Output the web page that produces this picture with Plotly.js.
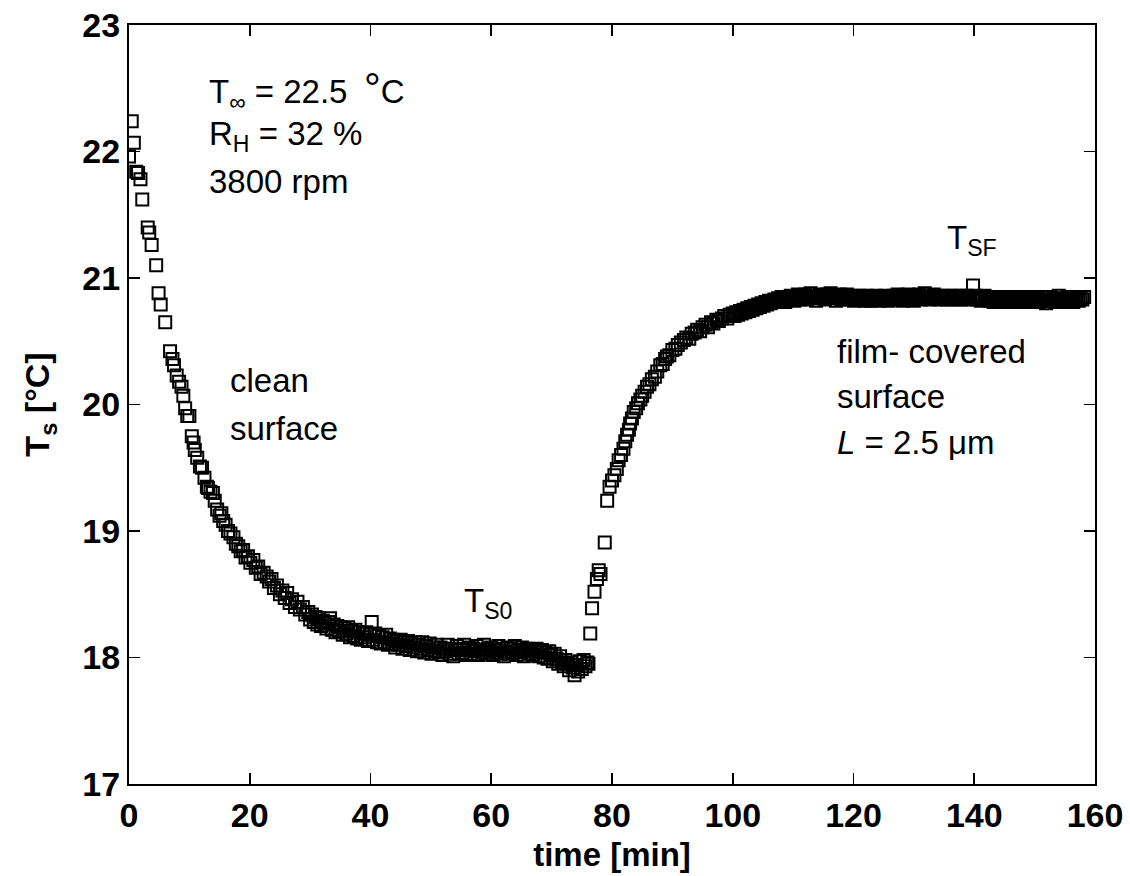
<!DOCTYPE html>
<html>
<head>
<meta charset="utf-8">
<script src="https://cdn.plot.ly/plotly-3.0.1.min.js"></script>
<style>html,body{margin:0;padding:0;background:#fff;}#chart{width:1130px;height:876px;}</style>
</head>
<body>
<div id="chart"></div>
<script>
// time [min]
const timeMin = [
0,0.45,0.8,1.2,1.5,1.9,2.2,3.1,3.35,3.75,4.5,4.9,5.25,6.0,6.8,7.2,7.45,7.9,8.3,8.7,
9.0,9.3,9.65,10.0,10.4,10.7,10.9,11.3,11.75,12.1,12.5,12.9,13.1,13.5,13.9,14.2,14.6,15.0,15.3,15.6,
16.0,16.4,16.8,17.3,17.7,18.1,18.5,18.9,19.3,19.7,20.1,20.6,21.0,21.4,21.8,22.3,22.8,23.2,23.6,24.0,
24.5,25.0,25.4,25.8,26.2,26.6,27.0,27.5,27.9,28.3,28.8,29.2,29.7,
30.0,30.3,30.6,30.9,31.2,31.5,31.8,32.1,32.4,32.7,
33.0,33.3,33.6,33.9,34.2,34.5,34.8,35.1,35.4,35.7,
36.0,36.3,36.6,36.9,37.2,37.5,37.8,38.1,38.4,38.7,
39.0,39.3,39.6,39.9,40.2,40.5,40.8,41.1,41.4,41.7,
42.0,42.3,42.6,42.9,43.2,43.5,43.8,44.1,44.4,44.7,
45.0,45.3,45.6,45.9,46.2,46.5,46.8,47.1,47.4,47.7,
48.0,48.3,48.6,48.9,49.2,49.5,49.8,50.1,50.4,50.7,
51.0,51.3,51.6,51.9,52.2,52.5,52.8,53.1,53.4,53.7,
54.0,54.3,54.6,54.9,55.2,55.5,55.8,56.1,56.4,56.7,
57.0,57.3,57.6,57.9,58.2,58.5,58.8,59.1,59.4,59.7,
60.0,60.3,60.6,60.9,61.2,61.5,61.8,62.1,62.4,62.7,
63.0,63.3,63.6,63.9,64.2,64.5,64.8,65.1,65.4,65.7,
66.0,66.3,66.6,66.9,67.2,67.5,67.8,68.1,68.4,68.7,
69.0,69.3,69.6,69.9,70.2,70.5,70.8,71.1,71.4,71.7,
72.0,72.3,72.6,72.9,73.2,73.5,73.8,74.1,74.4,74.7,
75.0,75.3,75.6,75.9,76.1,
76.4,76.7,77.1,77.5,77.8,78.1,78.8,79.2,79.6,80.0,80.4,80.8,81.1,81.5,81.9,82.2,82.5,82.8,83.0,83.3,
83.6,84.0,84.3,84.7,85.0,85.4,85.8,86.2,86.6,87.1,87.5,88.0,88.4,88.8,89.1,89.5,90.0,90.5,90.9,91.4,
91.9,92.3,92.8,93.2,93.7,94.1,94.6,95.0,95.5,95.9,96.4,96.8,97.3,97.7,98.2,98.6,99.1,99.5,
100.0,100.3,100.6,100.9,101.2,101.5,101.8,102.1,102.4,102.7,
103.0,103.3,103.6,103.9,104.2,104.5,104.8,105.1,105.4,105.7,
106.0,106.3,106.6,106.9,107.2,107.5,107.8,108.1,108.4,108.7,
109.0,109.3,109.6,109.9,110.2,110.5,110.8,111.1,111.4,111.7,
112.0,112.3,112.6,112.9,113.2,113.5,113.8,114.1,114.4,114.7,
115.0,115.3,115.6,115.9,116.2,116.5,116.8,117.1,117.4,117.7,
118.0,118.3,118.6,118.9,119.2,119.5,119.8,120.1,120.4,120.7,
121.0,121.3,121.6,121.9,122.2,122.5,122.8,123.1,123.4,123.7,
124.0,124.3,124.6,124.9,125.2,125.5,125.8,126.1,126.4,126.7,
127.0,127.3,127.6,127.9,128.2,128.5,128.8,129.1,129.4,129.7,
130.0,130.3,130.6,130.9,131.2,131.5,131.8,132.1,132.4,132.7,
133.0,133.3,133.6,133.9,134.2,134.5,134.8,135.1,135.4,135.7,
136.0,136.3,136.6,136.9,137.2,137.5,137.8,138.1,138.4,138.7,
139.0,139.3,139.8,139.9,140.2,140.5,140.8,141.1,141.4,141.7,
142.0,142.3,142.6,142.9,143.2,143.5,143.8,144.1,144.4,144.7,
145.0,145.3,145.6,145.9,146.2,146.5,146.8,147.1,147.4,147.7,
148.0,148.3,148.6,148.9,149.2,149.5,149.8,150.1,150.4,150.7,
151.0,151.3,151.6,151.9,152.2,152.5,152.8,153.1,153.4,153.7,
154.0,154.3,154.6,154.9,155.2,155.5,155.8,156.1,156.4,156.7,
157.0,157.3,157.6,157.9,158.2
];
// surface temperature T_s [°C]
const surfaceTemp = [
21.96,22.24,22.07,21.84,21.83,21.78,21.62,21.40,21.36,21.26,21.10,20.88,20.79,20.65,20.42,20.36,20.31,20.23,20.18,20.14,
20.07,19.97,19.91,19.91,19.75,19.70,19.64,19.58,19.51,19.50,19.42,19.35,19.34,19.31,19.30,19.24,19.17,19.12,19.14,19.08,
19.05,19.00,18.98,18.95,18.90,18.88,18.84,18.85,18.79,18.80,18.75,18.77,18.71,18.72,18.66,18.67,18.64,18.60,18.62,18.55,
18.57,18.50,18.53,18.47,18.51,18.43,18.46,18.40,18.44,18.38,18.40,18.34,18.36,
18.30,18.34,18.28,18.32,18.26,18.31,18.25,18.29,18.27,18.23,
18.28,18.31,18.22,18.26,18.20,18.25,18.21,18.24,18.18,18.23,
18.19,18.24,18.16,18.21,18.17,18.22,18.15,18.20,18.14,18.19,
18.16,18.20,18.13,18.18,18.28,18.14,18.19,18.12,18.17,18.11,
18.16,18.12,18.18,18.10,18.15,18.11,18.14,18.08,18.13,18.10,
18.14,18.07,18.12,18.09,18.13,18.06,18.11,18.08,18.12,18.05,
18.10,18.07,18.12,18.04,18.09,18.06,18.11,18.03,18.08,18.05,
18.10,18.04,18.08,18.02,18.07,18.05,18.10,18.03,18.07,18.01,
18.06,18.09,18.03,18.07,18.04,18.10,18.02,18.06,18.08,18.03,
18.07,18.05,18.09,18.02,18.06,18.04,18.10,18.03,18.07,18.05,
18.08,18.02,18.06,18.04,18.09,18.03,18.07,18.01,18.05,18.08,
18.03,18.07,18.04,18.09,18.02,18.06,18.04,18.08,18.01,18.05,
18.07,18.03,18.06,18.02,18.05,18.07,18.01,18.04,18.06,18.00,
18.04,17.99,18.05,18.02,17.97,18.03,17.99,17.95,18.01,17.96,
17.93,17.98,17.95,17.90,17.96,17.92,17.86,17.94,17.89,17.97,
17.91,17.98,17.93,17.96,17.95,
18.19,18.39,18.52,18.62,18.69,18.66,18.91,19.24,19.35,19.40,19.44,19.49,19.56,19.60,19.65,19.71,19.76,19.80,19.85,19.89,
19.94,19.97,20.01,20.04,20.07,20.10,20.14,20.16,20.20,20.22,20.26,20.31,20.32,20.36,20.38,20.39,20.43,20.44,20.47,20.49,
20.51,20.53,20.52,20.56,20.57,20.59,20.58,20.61,20.63,20.61,20.65,20.64,20.67,20.66,20.68,20.70,20.68,20.71,
20.72,20.70,20.73,20.71,20.74,20.72,20.75,20.73,20.76,20.74,
20.77,20.75,20.78,20.76,20.79,20.77,20.80,20.78,20.81,20.79,
20.82,20.80,20.81,20.83,20.81,20.84,20.82,20.85,20.83,20.81,
20.85,20.83,20.86,20.84,20.82,20.85,20.87,20.83,20.86,20.84,
20.87,20.83,20.85,20.88,20.84,20.86,20.82,20.85,20.87,20.84,
20.86,20.83,20.87,20.85,20.88,20.84,20.86,20.82,20.85,20.87,
20.83,20.86,20.84,20.87,20.83,20.85,20.86,20.82,20.85,20.84,
20.86,20.83,20.85,20.82,20.86,20.84,20.82,20.85,20.83,20.86,
20.84,20.82,20.85,20.83,20.86,20.84,20.82,20.85,20.83,20.86,
20.84,20.87,20.83,20.85,20.82,20.86,20.84,20.87,20.83,20.85,
20.82,20.86,20.84,20.87,20.83,20.85,20.88,20.84,20.86,20.83,
20.85,20.87,20.84,20.86,20.83,20.85,20.84,20.86,20.83,20.85,
20.84,20.86,20.83,20.85,20.84,20.86,20.83,20.85,20.84,20.86,
20.83,20.85,20.94,20.84,20.86,20.83,20.85,20.82,20.84,20.86,
20.83,20.85,20.82,20.84,20.81,20.83,20.85,20.82,20.84,20.81,
20.83,20.85,20.82,20.84,20.81,20.83,20.85,20.82,20.84,20.81,
20.83,20.85,20.82,20.84,20.81,20.83,20.85,20.82,20.84,20.81,
20.83,20.85,20.82,20.80,20.83,20.85,20.82,20.84,20.81,20.83,
20.86,20.82,20.84,20.81,20.83,20.85,20.82,20.84,20.81,20.83,
20.85,20.82,20.84,20.83,20.85
];
const xTicks = [0,20,40,60,80,100,120,140,160];
const yTicks = [17,18,19,20,21,22,23];

const FONT = "Liberation Sans, Arial, sans-serif";
const annFont = {family: FONT, size: 33, color: "#000"};

function ann(text, x, y) {
  return {text: text, x: x, y: y, xref: "x", yref: "y", xanchor: "left", yanchor: "middle",
          showarrow: false, font: annFont};
}

const trace = {
  x: timeMin, y: surfaceTemp, type: "scatter", mode: "markers",
  marker: {symbol: "square-open", size: 12, color: "#000", line: {color: "#000", width: 2}},
  hoverinfo: "skip"
};

const axisCommon = {
  showgrid: false, zeroline: false, showline: true, linecolor: "#000", linewidth: 2,
  mirror: "allticks", ticks: "inside", ticklen: 11, tickwidth: 1.6, tickcolor: "#000",
  tickfont: {family: FONT, size: 34, color: "#000", weight: "bold"}
};

const layout = {
  width: 1130, height: 876,
  margin: {l: 129, r: 35, t: 25, b: 92},
  paper_bgcolor: "#fff", plot_bgcolor: "#fff",
  showlegend: false,
  xaxis: Object.assign({}, axisCommon, {
    range: [0, 160], tickvals: xTicks, ticktext: xTicks.map(String),
    title: {text: "time [min]", font: {family: FONT, size: 33, color: "#000", weight: "bold"}, standoff: 10}
  }),
  yaxis: Object.assign({}, axisCommon, {
    range: [17, 23], tickvals: yTicks, ticktext: yTicks.map(String),
    title: {text: "T<sub>s</sub> [°C]", font: {family: FONT, size: 34, color: "#000", weight: "bold"}, standoff: 22}
  }),
  annotations: [
    ann("T<sub>∞</sub> = 22.5\u2002<span style='font-size:42px'>°</span>C", 12.9, 22.49),
    ann("R<sub>H</sub> = 32 %", 12.9, 22.12),
    ann("3800 rpm", 12.9, 21.76),
    ann("clean", 16.4, 20.19),
    ann("surface", 16.4, 19.81),
    ann("T<sub>S0</sub>", 55.2, 18.43),
    ann("T<sub>SF</sub>", 135.2, 21.30),
    ann("film- covered", 116.9, 20.42),
    ann("surface", 116.9, 20.06),
    ann("<i>L</i> = 2.5 μm", 116.9, 19.70)
  ]
};

Plotly.newPlot("chart", [trace], layout, {staticPlot: true, displayModeBar: false});
</script>
</body>
</html>
